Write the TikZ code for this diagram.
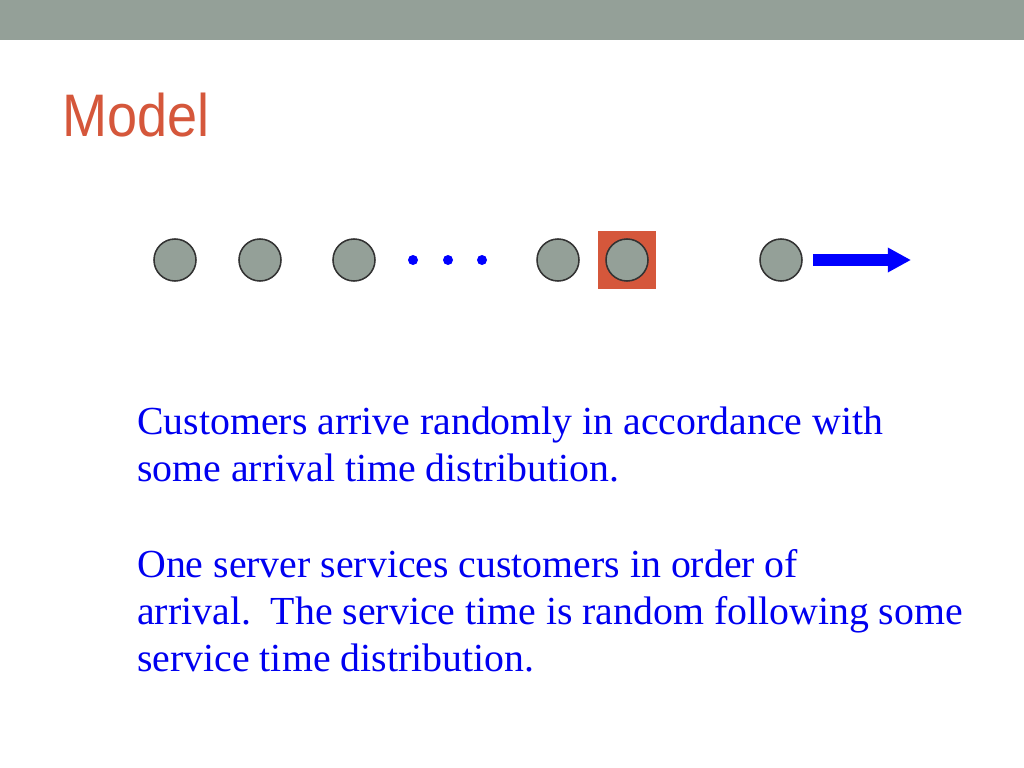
\documentclass[tikz,border=0pt]{standalone}
\usepackage{fontspec}
\setmainfont{Liberation Serif}
\newfontfamily\titlefont[FakeStretch=0.9]{Liberation Sans}
\usepackage{xcolor}
\usetikzlibrary{positioning, arrows.meta}
\definecolor{barGray}{HTML}{94A098}
\definecolor{custEdge}{HTML}{333333}
\definecolor{srvRed}{HTML}{D5573B}
\definecolor{txtBlue}{HTML}{0000F0}

\begin{document}
\begin{tikzpicture}[x=0.025cm, y=-0.025cm,
  cust/.style={circle, draw=custEdge, fill=barGray, line width=1.1pt, minimum size=1.05cm, inner sep=0pt},
  qdot/.style={circle, fill=blue, minimum size=0.25cm, inner sep=0pt},
  srv/.style={rectangle, fill=srvRed, minimum size=1.45cm, inner sep=0pt},
  flow/.style={-{Triangle[length=0.58cm, width=0.58cm]}, line width=0.3cm, color=blue},
  body/.style={anchor=base west, inner sep=0pt, align=left, text=txtBlue, font=\fontsize{28.3}{33.2}\selectfont}]
\useasboundingbox[fill=white] (0,0) rectangle (1024,768);
\fill[barGray] (0,0) rectangle (1024,40);
\node[anchor=base west, inner sep=0pt, text=srvRed, font=\titlefont\fontsize{42.7}{50}\selectfont] (title) at (62,137) {Model};
% queue
\node[srv] (server) at (627,260) {};
\node[cust] (c1) at (175,260) {};
\node[cust] (c2) at (260,260) {};
\node[cust] (c3) at (354,260) {};
\node[qdot] (d1) at (413,260) {};
\node[qdot] (d2) at (448,260) {};
\node[qdot] (d3) at (482,260) {};
\node[cust] (c4) at (558,260) {};
\node[cust] (c5) at (627,260) {};
\node[cust] (c6) at (781,260) {};
\coordinate (out) at (911,260);
\draw[flow] ([xshift=0.25cm]c6.east) -- (out);
% description (base = last line)
\node[body] (p1) at (137,481) {Customers arrive randomly in accordance with\\some arrival time distribution.};
\node[body] (p2) at (137,671) {One server services customers in order of\\arrival.\ \ The service time is random following some\\service time distribution.};
\end{tikzpicture}
\end{document}
